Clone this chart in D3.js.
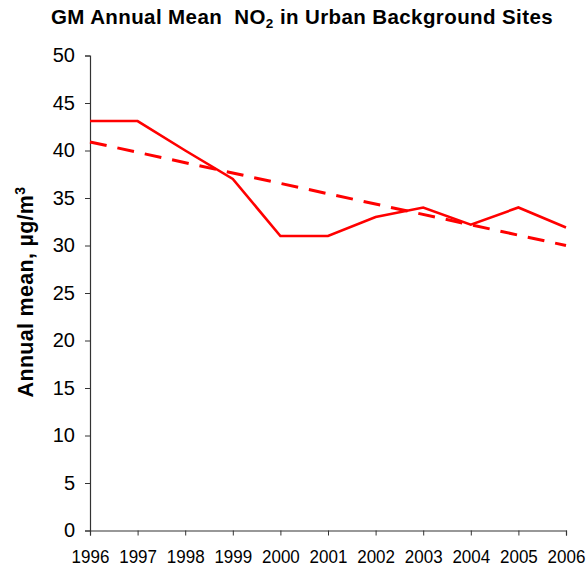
<!DOCTYPE html>
<html><head><meta charset="utf-8">
<script src="https://cdn.jsdelivr.net/npm/d3@7"></script>
<style>body{margin:0;background:#fff}svg{display:block}</style>
</head><body>
<svg id="c" width="587" height="569"></svg>
<script>
const years = [1996,1997,1998,1999,2000,2001,2002,2003,2004,2005,2006];
const no2 = [43.1,43.1,40.0,37.0,31.0,31.0,33.0,34.0,32.2,34.0,31.9];
const trendYears = [1996,2006];
const trendValues = [40.9,30.0];
const yTicks = [0,5,10,15,20,25,30,35,40,45,50];

const svg = d3.select('#c');
const font = 'Liberation Sans, Arial, sans-serif';
const x = d3.scaleLinear().domain([1996,2006]).range([90,566]);
const y = d3.scaleLinear().domain([0,50]).range([530.5,55.5]);

// title
const t = svg.append('text').attr('x',302).attr('y',24).attr('text-anchor','middle')
  .style('white-space','pre').attr('letter-spacing',0.4)
  .attr('font-family',font).attr('font-weight','bold').attr('font-size',20.5).attr('fill','#000');
t.append('tspan').text('GM Annual Mean  NO');
t.append('tspan').text('2').attr('font-size',13.5).attr('dy',4);
t.append('tspan').text(' in Urban Background Sites').attr('dy',-4);

// y axis
const ya = svg.append('g').attr('transform','translate(90,0)')
  .call(d3.axisLeft(y).tickValues(yTicks).tickSize(5).tickPadding(10).tickFormat(d3.format('d')));
ya.select('.domain').attr('stroke','#333').attr('stroke-width',1.2);
ya.selectAll('.tick line').attr('stroke','#333');
ya.selectAll('.tick text').attr('font-family',font).attr('font-size',20).attr('fill','#000');

// x axis
const xa = svg.append('g').attr('transform','translate(0,530.5)')
  .call(d3.axisBottom(x).tickValues(years).tickSize(5).tickPadding(5).tickFormat(d3.format('d')));
xa.select('.domain').attr('stroke','#333').attr('stroke-width',1.2);
xa.selectAll('.tick line').attr('stroke','#333');
xa.selectAll('.tick text').attr('font-family',font).attr('font-size',17).attr('fill','#000')
  .attr('y',null).attr('dy',null).attr('transform','translate(0,32.5) scale(1,1.12)');

// y label
const yl = svg.append('text').attr('transform','translate(33,292) rotate(-90)').attr('text-anchor','middle')
  .attr('font-family',font).attr('font-weight','bold').attr('font-size',21.5).attr('letter-spacing',0.3).attr('fill','#000');
yl.append('tspan').text('Annual mean, µg/m');
yl.append('tspan').text('3').attr('font-size',14).attr('dy',-8);

// trend
const line = d3.line().x(d=>x(d[0])).y(d=>y(d[1]));
svg.append('path').datum(trendYears.map((d,i)=>[d,trendValues[i]]))
  .attr('d',line).attr('fill','none').attr('stroke','#ff0000').attr('stroke-width',3)
  .attr('stroke-dasharray','17,11');
// data
svg.append('path').datum(years.map((d,i)=>[d,no2[i]]))
  .attr('d',line).attr('fill','none').attr('stroke','#ff0000').attr('stroke-width',2.6)
  .attr('stroke-linejoin','miter');
</script>
</body></html>
